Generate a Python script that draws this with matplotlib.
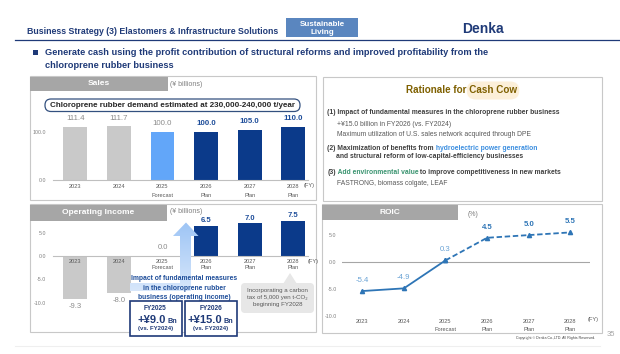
import matplotlib
matplotlib.use('Agg')
import matplotlib.pyplot as plt
import numpy as np
from matplotlib.patches import Rectangle, FancyBboxPatch, Polygon
from matplotlib.colors import LinearSegmentedColormap

plt.rcParams['font.family'] = ['Liberation Sans', 'DejaVu Sans']

# ---------------- data ----------------
years = ['2023', '2024', '2025', '2026', '2027', '2028']
year_notes = ['', '', 'Forecast', 'Plan', 'Plan', 'Plan']
sales = [111.4, 111.7, 100.0, 100.0, 105.0, 110.0]
operating_income = [-9.3, -8.0, 0.0, 6.5, 7.0, 7.5]
roic = [-5.4, -4.9, 0.3, 4.5, 5.0, 5.5]
sales_yticks = [0, 100]
oi_yticks = [-10, -5, 0, 5]
roic_yticks = [-10, -5, 0, 5]
forecast_index = 2  # 2025 forecast; later years are plan

# ---------------- style ----------------
W, H = 620, 354
NAVY = '#1f3a78'
BAR_NAVY = '#0b3a8a'
BAR_LIGHT = '#62a6f9'
BAR_GRAY = '#c9c9c9'
LABEL_NAVY = '#1f4e9a'
GRAY_TXT = '#8c8c8c'
TICK_GRAY = '#7f7f7f'
YEAR_GRAY = '#595959'
HEADER_GRAY = '#a6a6a6'
PANEL_EDGE = '#c8c8c8'
ROIC_BLUE = '#2e75b6'

fig = plt.figure(figsize=(W / 100, H / 100), dpi=100)


def rect_frac(x0, y0, x1, y1):
    return [x0 / W, 1 - y1 / H, (x1 - x0) / W, (y1 - y0) / H]


bg = fig.add_axes([0, 0, 1, 1], zorder=0)
ov = fig.add_axes([0, 0, 1, 1], zorder=5)
for a in (bg, ov):
    a.set_xlim(0, W)
    a.set_ylim(H, 0)
    a.axis('off')

# ---------------- slide header ----------------
bg.text(27, 31, 'Business Strategy (3) Elastomers & Infrastructure Solutions',
        fontsize=6.35, fontweight='bold', color=NAVY, ha='left', va='center')
bg.add_patch(Rectangle((286, 18), 72, 19, fc='#5a86bf', ec='none'))
bg.text(322, 24, 'Sustainable', fontsize=5.8, fontweight='bold', color='white',
        ha='center', va='center')
bg.text(322, 32.5, 'Living', fontsize=5.8, fontweight='bold', color='white',
        ha='center', va='center')
bg.text(504, 29, 'Denka', fontsize=10, fontweight='bold', color=NAVY,
        ha='right', va='center')
bg.plot([15, 620], [39.5, 39.5], color=NAVY, lw=0.9)
bg.add_patch(Rectangle((33, 50), 5, 5, fc=NAVY, ec='none'))
bg.text(45, 52.8, 'Generate cash using the profit contribution of structural reforms '
        'and improved profitability from the', fontsize=6.65, fontweight='bold',
        color=NAVY, ha='left', va='center')
bg.text(45, 65.5, 'chloroprene rubber business', fontsize=6.65, fontweight='bold',
        color=NAVY, ha='left', va='center')


def panel(x0, y0, x1, y1):
    bg.add_patch(Rectangle((x0, y0), x1 - x0, y1 - y0, fill=False,
                           ec=PANEL_EDGE, lw=0.8))


def header(x0, y0, x1, y1, label):
    bg.add_patch(Rectangle((x0, y0), x1 - x0, y1 - y0, fc=HEADER_GRAY, ec='none'))
    bg.text((x0 + x1) / 2, (y0 + y1) / 2, label, fontsize=6, fontweight='bold',
            color='white', ha='center', va='center')


xs = np.arange(len(years))
tick_labels = [f'{y}\n{n}' for y, n in zip(years, year_notes)]
bar_colors = [BAR_GRAY if i < forecast_index else (BAR_LIGHT if i == forecast_index else BAR_NAVY)
              for i in range(len(years))]


def style_axes(ax, yticks, ypad, xpad, linesp):
    ax.patch.set_alpha(0)
    for s in ('top', 'right', 'left'):
        ax.spines[s].set_visible(False)
    ax.spines['bottom'].set_color('#bfbfbf')
    ax.spines['bottom'].set_linewidth(0.8)
    ax.set_yticks(yticks, [f'{t:.1f}' for t in yticks])
    ax.set_xticks(xs, tick_labels)
    ax.tick_params(length=0)
    ax.tick_params(axis='y', labelsize=3.8, labelcolor=TICK_GRAY, pad=ypad)
    ax.tick_params(axis='x', labelsize=4.1, labelcolor=YEAR_GRAY, pad=xpad)
    for t in ax.get_xticklabels():
        t.set_linespacing(linesp)


# ---------------- Sales panel ----------------
panel(30, 76, 316, 200)
header(30, 76.5, 168, 91, 'Sales')
bg.text(170, 84.5, '(¥ billions)', fontsize=5, color=TICK_GRAY, ha='left', va='center')
bg.add_patch(FancyBboxPatch((45, 99), 255, 12.5, boxstyle='round,pad=0,rounding_size=6',
                            fc='white', ec='#33507f', lw=0.9))
bg.text(172.5, 105.5, 'Chloroprene rubber demand estimated at 230,000-240,000 t/year',
        fontsize=5.8, fontweight='bold', color='#262626', ha='center', va='center')

ax1 = fig.add_axes(rect_frac(53, 108, 308, 180), zorder=2)
ax1.bar(xs, sales, width=0.55, color=bar_colors)
ax1.set_xlim(-0.511, 5.337)
ax1.set_ylim(0, 150)
style_axes(ax1, sales_yticks, 5, 2.6, 2.0)
for i, v in enumerate(sales):
    plan = i > forecast_index
    ax1.annotate(f'{v:.1f}', (xs[i], v), xytext=(0, 3.4), textcoords='offset points',
                 ha='center', va='bottom', fontsize=5.7,
                 color=LABEL_NAVY if plan else GRAY_TXT,
                 fontweight='bold' if plan else 'normal', annotation_clip=False)
bg.text(304, 186, '(FY)', fontsize=4.1, color=YEAR_GRAY, ha='left', va='center')

# ---------------- Operating income panel ----------------
panel(30, 204, 316, 332)
header(30, 204.5, 167, 220.5, 'Operating Income')
bg.text(170, 211.7, '(¥ billions)', fontsize=5, color=TICK_GRAY, ha='left', va='center')

oi_scale = 4.66
ax2 = fig.add_axes(rect_frac(53, 256 - 8 * oi_scale, 308, 256 + 12 * oi_scale), zorder=2)
ax2.bar(xs, operating_income, width=0.55, color=bar_colors)
ax2.set_xlim(-0.511, 5.337)
ax2.set_ylim(-12, 8)
style_axes(ax2, oi_yticks, 4.8, 2.2, 1.7)
ax2.spines['bottom'].set_position(('data', 0))
for i, v in enumerate(operating_income):
    plan = i > forecast_index
    if v > 0:
        off, va = 1.3, 'bottom'
    elif v == 0:
        off, va = 3.6, 'bottom'
    else:
        off, va = -2.8, 'top'
    ax2.annotate(f'{v:.1f}', (xs[i], v), xytext=(0, off), textcoords='offset points',
                 ha='center', va=va, fontsize=5.5,
                 color=LABEL_NAVY if plan else GRAY_TXT,
                 fontweight='bold' if plan else 'normal', annotation_clip=False)
bg.text(308, 261, '(FY)', fontsize=4.1, color=YEAR_GRAY, ha='left', va='center')

# arrow (gradient, L-shaped)
arrow_pts = [(130, 283), (180, 283), (180, 236), (173, 236), (186, 222.5),
             (198.5, 236), (191, 236), (191, 291), (130, 291)]
poly = Polygon(arrow_pts, closed=True, fc='none', ec='none')
ov.add_patch(poly)
cmap = LinearSegmentedColormap.from_list('arr', ['#9cc4f5', '#d8e7fb'])
grad = np.linspace(0, 1, 100).reshape(-1, 1)
im = ov.imshow(grad, cmap=cmap, extent=(128, 205, 292, 220), origin='upper',
               aspect='auto', zorder=1)
im.set_clip_path(poly)

ov.text(184, 288, 'Impact of fundamental measures\nin the chloroprene rubber\n'
        'business (operating income)', fontsize=4.9, fontweight='bold',
        color=LABEL_NAVY, ha='center', va='center', linespacing=1.5, zorder=3)

for (x0, x1, fy, amount) in [(129.5, 181.5, 'FY2025', '+¥9.0'),
                             (184.5, 237.0, 'FY2026', '+¥15.0')]:
    ov.add_patch(Rectangle((x0, 301), x1 - x0, 34.5, fc='white', ec=NAVY, lw=1.2, zorder=3))
    cx = (x0 + x1) / 2
    ov.text(cx, 309, fy, fontsize=4.7, fontweight='bold', color=NAVY,
            ha='center', va='center', zorder=4)
    split = cx + 10.5 if amount == '+¥9.0' else cx + 11.5
    ov.text(split, 323, amount, fontsize=8, fontweight='bold', color=NAVY,
            ha='right', va='baseline', zorder=4)
    ov.text(split + 1, 323, 'Bn', fontsize=5.2, fontweight='bold', color=NAVY,
            ha='left', va='baseline', zorder=4)
    ov.text(cx, 328.5, '(vs. FY2024)', fontsize=4.3, fontweight='bold', color=NAVY,
            ha='center', va='center', zorder=4)

# carbon-tax callout
ov.add_patch(FancyBboxPatch((241, 283), 73, 30, boxstyle='round,pad=0,rounding_size=4',
                            fc='#e7e7e7', ec='none', zorder=2))
ov.add_patch(Polygon([(283, 284), (290, 273), (297, 284)], closed=True,
                     fc='#e7e7e7', ec='none', zorder=2))
ov.text(277.5, 297.5, 'Incorporating a carbon\ntax of 5,000 yen t-CO\u2082\nbeginning FY2028',
        fontsize=4.4, color='#595959', ha='center', va='center', linespacing=1.4, zorder=3)

# ---------------- Rationale panel ----------------
panel(322.7, 76.7, 601.7, 201)
bg.add_patch(FancyBboxPatch((466.7, 81.5), 52.6, 18, boxstyle='round,pad=0,rounding_size=9',
                            fc='#fcefd9', ec='none'))
bg.text(461.5, 90, 'Rationale for Cash Cow', fontsize=7.1, fontweight='bold',
        color='#7f6000', ha='center', va='center')

DARK = '#404040'
MID = '#595959'


def rich(x, y, parts, fs=4.9):
    txt, col, wt = parts[0]
    prev = bg.text(x, y, txt, fontsize=fs, color=col, fontweight=wt, ha='left', va='center')
    for txt, col, wt in parts[1:]:
        prev = bg.annotate(txt, xy=(1, 0), xycoords=prev, fontsize=fs, color=col,
                           fontweight=wt, ha='left', va='bottom')


rich(327.3, 112.7, [('(1) Impact of fundamental measures in the chloroprene rubber business', DARK, 'bold')])
rich(337.3, 124.3, [('+¥15.0 billion in FY2026 (vs. FY2024)', MID, 'normal')])
rich(337.3, 135.0, [('Maximum utilization of U.S. sales network acquired through DPE', MID, 'normal')])
rich(327.3, 149.0, [('(2) Maximization of benefits from', DARK, 'bold'),
                    (' hydroelectric power generation', '#3b8ee0', 'bold')])
rich(336.0, 157.0, [('and structural reform of low-capital-efficiency businesses', DARK, 'bold')])
rich(327.3, 172.3, [('(3)', DARK, 'bold'),
                    (' Add environmental value', '#3a9470', 'bold'),
                    (' to improve competitiveness in new markets', DARK, 'bold')])
rich(337.3, 183.3, [('FASTRONG, biomass colgate, LEAF', MID, 'normal')])

# ---------------- ROIC panel ----------------
panel(321.7, 204, 601.7, 332.7)
header(321.7, 205, 458.3, 220, 'ROIC')
bg.text(468, 214.3, '(%)', fontsize=5, color=TICK_GRAY, ha='left', va='center')

r_scale = 5.38
ax3 = fig.add_axes(rect_frac(341.7, 262 - 8 * r_scale, 590, 262 + 10 * r_scale), zorder=2)
ax3.set_xlim(-0.495, 5.474)
ax3.set_ylim(-10, 8)
style_axes(ax3, roic_yticks, 3.6, 2.0, 1.75)
ax3.spines['bottom'].set_visible(False)
ax3.axhline(0, color='#a6a6a6', lw=0.8)
ax3.plot(xs[:forecast_index + 1], roic[:forecast_index + 1], '-^', color=ROIC_BLUE,
         lw=1.3, ms=3.0)
ax3.plot(xs[forecast_index:], roic[forecast_index:], '--^', color=ROIC_BLUE,
         lw=1.3, ms=3.0, dashes=(3, 1.5))
for i, v in enumerate(roic):
    plan = i > forecast_index
    ax3.annotate(f'{v:.1f}', (xs[i], v), xytext=(0, 7.6), textcoords='offset points',
                 ha='center', va='center', fontsize=5.6,
                 color=ROIC_BLUE if plan else '#6aa3d5',
                 fontweight='bold' if plan else 'normal', annotation_clip=False)
bg.text(588, 319.3, '(FY)', fontsize=4.1, color=YEAR_GRAY, ha='left', va='center')

# ---------------- footer ----------------
bg.plot([15, 600], [346, 346], color='#efefef', lw=0.8)
bg.text(595, 337.7, 'Copyright \u00a9 Denka Co.,LTD. All Rights Reserved.', fontsize=2.6,
        color='#404040', ha='right', va='center')
bg.text(611, 335, '35', fontsize=5.5, color='#a6a6a6', ha='center', va='center')

fig.savefig('out.png', dpi=100)
